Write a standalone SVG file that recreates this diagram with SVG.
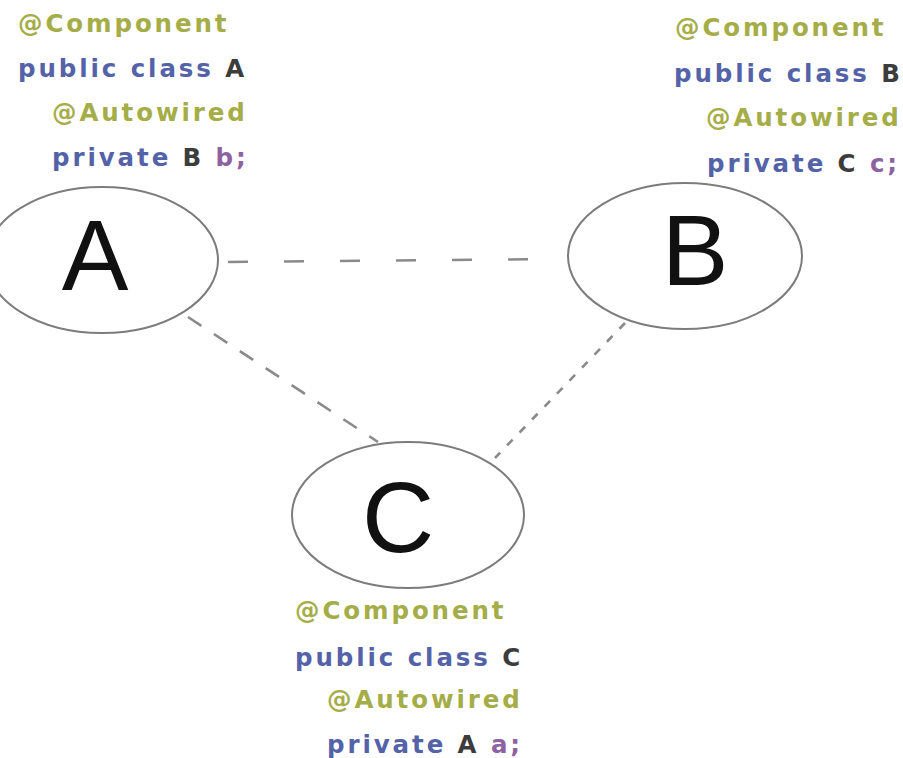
<svg xmlns="http://www.w3.org/2000/svg" width="903" height="758" viewBox="0 0 903 758">
<style>
.code{font-family:"DejaVu Sans","Liberation Sans",sans-serif;font-size:24.5px;font-weight:bold;letter-spacing:2.9px}
.ann{fill:#a5ad48}
.kw{fill:#5462a8}
.cls{fill:#3c3c3c}
.var{fill:#8e62a0}
.node{fill:#ffffff;stroke:#7c7c7c;stroke-width:2}
.big{font-family:"Liberation Sans","DejaVu Sans",sans-serif;font-size:100px;fill:#111111;text-anchor:middle}
.edge{stroke:#8a8a8a;stroke-width:2.6;fill:none}
</style>
<rect width="903" height="758" fill="#ffffff"/>
<g id="connectors">
<line class="edge" x1="228" y1="262" x2="563" y2="259" stroke-dasharray="20 36"/>
<line class="edge" x1="188" y1="317" x2="378" y2="442" stroke-dasharray="16 15"/>
<line class="edge" x1="625" y1="323" x2="495" y2="458" stroke-dasharray="8 10"/>
</g>
<g id="nodeA">
<ellipse class="node" cx="102" cy="260" rx="116" ry="73"/>
<text class="big" x="95" y="290">A</text>
</g>
<g id="nodeB">
<ellipse class="node" cx="685" cy="256" rx="117" ry="73"/>
<text class="big" x="695" y="285">B</text>
</g>
<g id="nodeC">
<ellipse class="node" cx="408" cy="515" rx="116" ry="73"/>
<text class="big" x="398" y="552">C</text>
</g>
<g id="codeA" class="code">
<text class="ann" x="18" y="32">@Component</text>
<text x="18" y="77"><tspan class="kw">public class </tspan><tspan class="cls">A</tspan></text>
<text class="ann" x="52" y="121">@Autowired</text>
<text x="52" y="166"><tspan class="kw">private </tspan><tspan class="cls">B </tspan><tspan class="var">b;</tspan></text>
</g>
<g id="codeB" class="code">
<text class="ann" x="675" y="36">@Component</text>
<text x="674" y="82"><tspan class="kw">public class </tspan><tspan class="cls">B</tspan></text>
<text class="ann" x="706" y="126">@Autowired</text>
<text x="707" y="172"><tspan class="kw">private </tspan><tspan class="cls">C </tspan><tspan class="var">c;</tspan></text>
</g>
<g id="codeC" class="code">
<text class="ann" x="295" y="619">@Component</text>
<text x="295" y="666"><tspan class="kw">public class </tspan><tspan class="cls">C</tspan></text>
<text class="ann" x="327" y="708">@Autowired</text>
<text x="327" y="753"><tspan class="kw">private </tspan><tspan class="cls">A </tspan><tspan class="var">a;</tspan></text>
</g>
</svg>
